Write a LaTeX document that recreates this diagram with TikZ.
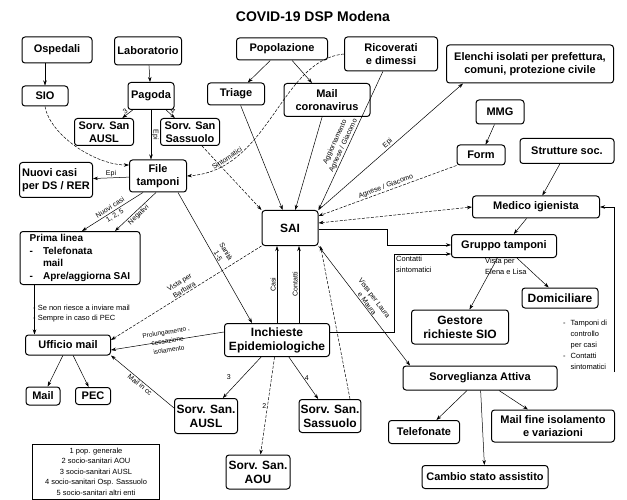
\documentclass[tikz,border=0pt]{standalone}
\usepackage{fontspec}
\setmainfont{Liberation Sans}
\usetikzlibrary{arrows.meta}

\tikzset{
  box/.style={draw, line width=1pt, rounded corners=3pt, align=center, inner sep=1.5pt,
    font=\bfseries\fontsize{11}{12.5}\selectfont},
  bigbox/.style={box, font=\bfseries\fontsize{12}{14}\selectfont},
  lbl/.style={font=\fontsize{7}{9}\selectfont, inner sep=1pt, align=center},
  note/.style={font=\fontsize{7.5}{11}\selectfont, inner sep=0pt, align=left},
  arr/.style={-{Stealth[length=5pt,width=3.5pt]}, line width=0.5pt},
  dsh/.style={dash pattern=on 3pt off 1.5pt},
}

\begin{document}
\begin{tikzpicture}[x=1pt, y=-1pt]
        \useasboundingbox (0,0) rectangle (627,500);
        \node at (313, 16) (title) {\bfseries\fontsize{14}{16}\selectfont COVID-19 DSP Modena};

        % top row
        \node[box, minimum width=70pt, minimum height=26pt] at (57, 50)  (osp)     {Ospedali};
        \node[box, minimum width=67pt, minimum height=28pt] at (148, 51) (lab)     {Laboratorio};
        \node[box, minimum width=91pt, minimum height=22pt] at (282, 49) (pop)     {Popolazione};
        \node[box, minimum width=93pt, minimum height=34pt] at (391, 54) (ric)     {Ricoverati\\e dimessi};
        \node[box, minimum width=167pt, minimum height=38pt] at (530, 64) (elenchi) {Elenchi isolati per prefettura,\\comuni, protezione civile};

        \node[box, minimum width=46pt, minimum height=20pt] at (45, 96)  (sio)     {SIO};
        \node[box, minimum width=46pt, minimum height=27pt] at (151, 96) (pagoda)  {Pagoda};
        \node[box, minimum width=57pt, minimum height=22pt] at (236, 94) (triage)  {Triage};
        \node[box, minimum width=86pt, minimum height=33pt] at (327, 100) (mailcov) {Mail\\coronavirus};
        \node[box, minimum width=48pt, minimum height=24pt] at (500, 112) (mmg)     {MMG};

        \node[box, minimum width=59pt, minimum height=27pt] at (104, 132) (ausl1)  {Sorv. San\\AUSL};
        \node[box, minimum width=59pt, minimum height=27pt] at (190, 132) (sass1)  {Sorv. San\\Sassuolo};
        \node[box, minimum width=48pt, minimum height=20pt] at (481, 155) (form)   {Form};
        \node[box, minimum width=94pt, minimum height=25pt] at (567, 151) (strutt) {Strutture soc.};

        % middle
        \node[box, minimum width=73pt, minimum height=35pt, align=left] at (56, 180) (nuovi) {Nuovi casi\\per DS / RER};
        \node[box, minimum width=57pt, minimum height=32pt] at (158, 176) (file)   {File\\tamponi};
        \node[bigbox, minimum width=56pt, minimum height=35pt] at (290, 228) (sai) {SAI};
        \node[box, minimum width=127pt, minimum height=22pt] at (536, 207) (medico) {Medico igienista};
        \node[box, minimum width=105pt, minimum height=23pt] at (504, 246) (gruppo) {Gruppo tamponi};
        \node[box, minimum width=120pt, font=\bfseries\fontsize{10}{12.5}\selectfont] at (80, 258) (prima) {%
          \begin{tabular}{@{}l@{\hspace{10pt}}l@{}}
            \multicolumn{2}{@{}l@{}}{Prima linea}\\
            - & Telefonata\\
              & mail\\
            - & Apre/aggiorna SAI
          \end{tabular}};
        \node[bigbox, minimum width=76pt, minimum height=20pt] at (560, 298) (domic)   {Domiciliare};
        \node[bigbox, minimum width=97pt, minimum height=34pt] at (460, 327) (gestore) {Gestore\\richieste SIO};
        \node[bigbox, minimum width=105pt, minimum height=33pt] at (277, 340) (inch)   {Inchieste\\Epidemiologiche};
        \node[box, minimum width=85pt, minimum height=20pt] at (68, 345)   (ufficio) {Ufficio mail};
        \node[box, minimum width=154pt, minimum height=24pt] at (480, 378) (sorv)    {Sorveglianza Attiva};

        % bottom
        \node[box, minimum width=34pt, minimum height=18pt] at (43, 396)  (mail)  {Mail};
        \node[box, minimum width=35pt, minimum height=17pt] at (93, 396)  (pec)   {PEC};
        \node[bigbox, minimum width=63pt, minimum height=35pt] at (206, 416) (ausl2) {Sorv. San.\\AUSL};
        \node[bigbox, minimum width=61pt, minimum height=33pt] at (330, 416) (sass2) {Sorv. San.\\Sassuolo};
        \node[box, minimum width=71pt, minimum height=23pt] at (424, 432) (telef)    {Telefonate};
        \node[box, minimum width=123pt, minimum height=32pt] at (553, 426) (mailfine) {Mail fine isolamento\\e variazioni};
        \node[bigbox, minimum width=64pt, minimum height=34pt] at (258, 472) (aou)   {Sorv. San.\\AOU};
        \node[box, minimum width=126pt, minimum height=23pt] at (485, 477) (cambio)  {Cambio stato assistito};

        \node[draw, line width=0.6pt, anchor=north, minimum width=127pt, minimum height=55pt,
              font=\fontsize{7.5}{10.5}\selectfont, align=center, inner sep=2pt] at (96, 444) (legend)
              {1 pop. generale\\2 socio-sanitari AOU\\3 socio-sanitari AUSL\\4 socio-sanitari Osp. Sassuolo\\5 socio-sanitari altri enti};

        % notes
        \node[note, anchor=west] at (33, 308) (nomail) {- Se non riesce a inviare mail};
        \node[note, anchor=west] at (33, 319) (sempre) {- Sempre in caso di PEC};
        \node[note, anchor=north west] at (396, 256) (contsint) {Contatti\\sintomatici};
        \node[note, anchor=north west] at (485, 258) (vistael) {Vista per\\Elena e Lisa};
        \node[note, anchor=north west] at (563, 318) (tamp) {%
          \begin{tabular}{@{}l@{\hspace{5pt}}l@{}}
            - & Tamponi di\\ & controllo\\ & per casi\\ - & Contatti\\ & sintomatici
          \end{tabular}};
        \coordinate (rside) at (614, 372);

        \draw[arr] (sio.north |- osp.south) -- (sio.north);
        \draw[arr] (lab) -- (pagoda);
        \draw[arr] (pagoda) -- node[lbl, sloped, above] {3} (ausl1);
        \draw[arr] (pagoda) -- node[lbl, sloped, above] {4} (sass1);
        \draw[arr] (pagoda.south) -- node[lbl, sloped, above] {Epi} (pagoda.south |- file.north);
        \draw[arr] (file) -- node[lbl, above] {Epi} (nuovi);
        \draw[arr, dsh] (sio.south) .. controls (50, 135) and (95, 165) .. ([yshift=11pt]file.west);
        \draw[arr, dsh] (ric.west) .. controls (280, 60) and (270, 170) .. node[lbl, sloped, above, pos=0.8] {Sintomatici} (file.east);
        \draw[arr, dsh] ([xshift=12pt]sass1.south) -- (sai.north west);
        \draw[arr] (pop) -- (triage);
        \draw[arr] (pop) -- (mailcov);
        \draw[arr] (triage) -- (sai);
        \draw[arr] (mailcov) -- (sai);
        \draw[arr] (ric) -- node[lbl, sloped, above, pos=0.55] {Aggiornamento\\Agnese / Giacomo} (sai.north east);
        \draw[arr] (sai.north east) -- node[lbl, sloped, above] {Epi} ([xshift=17pt]elenchi.south west);
        \draw[arr] (mmg) -- (form);
        \draw[arr, dsh] (form.south west) -- node[lbl, sloped, above] {Agnese / Giacomo} ([yshift=12pt]sai.east);
        \draw[arr] (strutt) -- (medico);
        \draw[{Stealth[length=5pt,width=3.5pt]}-{Stealth[length=5pt,width=3.5pt]}, line width=0.5pt, dsh] ([yshift=5pt]sai.east) -- (medico.west);
        \draw[arr] (medico) -- (gruppo);
        \draw[arr] ([yshift=-1pt]sai.east) -- ++(69, 0) |- ([yshift=1pt]gruppo.west);
        \draw[arr] ([yshift=8pt]inch.east) -- ++(64, 0) |- ([yshift=-8pt]gruppo.west);
        \draw[arr] (gruppo) -- (gestore);
        \draw[arr] (gruppo) -- (domic);
        \draw[arr] (sai.south east) -- node[lbl, sloped, above] {Vista per Laura\\e Maura} ([xshift=-70pt]sorv.north);
        \draw[arr] (rside) |- (medico.east);

        \draw[arr] ([xshift=-15pt]file.south) -- node[lbl, sloped] {Nuovi casi\\1, 2, 5} ([xshift=2pt]prima.north);
        \draw[arr] ([xshift=-2pt]file.south) -- node[lbl, sloped, below] {Negativi} ([xshift=35pt]prima.north);
        \draw[arr] ([xshift=20pt]file.south) -- node[lbl, sloped, above] {Sanità\\1-5} ([xshift=-25pt]inch.north);
        \draw[arr, dsh] (sai.south west) -- node[lbl, sloped, above] {Vista per\\Barbara} ([yshift=5pt]ufficio.east);
        \draw[arr] (inch.north) -- node[lbl, sloped, above] {Casi} (inch.north |- sai.south);
        \draw[arr] ([xshift=22pt]inch.north) -- node[lbl, sloped, above] {Contatti} ([xshift=22pt]inch.north |- sai.south);
        \draw[arr, dsh] ([xshift=20pt]sass2.north) -- ([xshift=2pt]sai.south east);
        \draw[arr] ([yshift=8pt]inch.west) -- node[lbl, sloped, font=\fontsize{6.5}{9}\selectfont] {Prolungamento ,\\cessazione\\isolamento} ([yshift=-5pt]ufficio.east);
        \draw[arr] (inch) -- node[lbl, left=10pt] {3} (ausl2);
        \draw[arr, dsh] (inch) -- node[lbl, left] {2} (aou);
        \draw[arr] (inch) -- node[lbl, right] {4} (sass2);
        \draw[arr] ([yshift=8pt]ausl2.west) -- node[lbl, sloped, below] {Mail in cc} (ufficio.south east);
        \draw[arr] ([xshift=15pt]prima.south west) -- ([xshift=15pt]prima.south west |- ufficio.north);
        \draw[arr] (ufficio) -- (mail);
        \draw[arr] (ufficio) -- (pec);
        \draw[arr] (sorv) -- (telef);
        \draw[arr] (sorv) -- (mailfine);
        \draw[arr] (sorv) -- (cambio);
\end{tikzpicture}
\end{document}
